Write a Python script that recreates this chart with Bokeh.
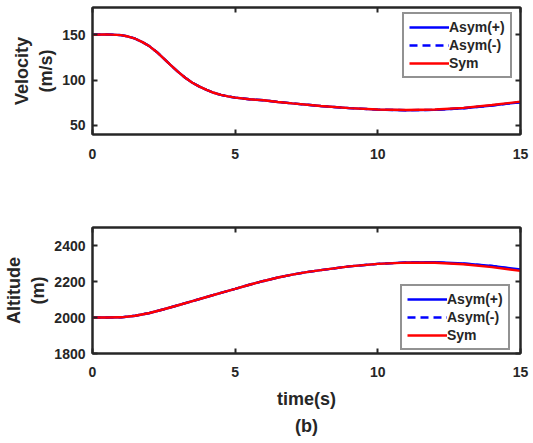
from bokeh.plotting import figure
from bokeh.layouts import column
from bokeh.models import Range1d, FixedTicker, LinearAxis, Legend, LegendItem, Title
from bokeh.embed import file_html
from bokeh.resources import INLINE

# ---- data ----
t_vel = [0, 0.5, 1, 1.25, 1.5, 1.75, 2, 2.25, 2.5, 2.75, 3, 3.25, 3.5, 3.75, 4, 4.25, 4.5,
         4.75, 5, 5.5, 6, 6.5, 7, 8, 9, 10, 11, 12, 13, 14, 15]
vel_sym = [150, 150.4, 149.6, 148.0, 145.6, 141.8, 137.2, 131.0, 123.7, 116.2, 109.1, 102.6,
           97.1, 92.8, 89.1, 86.0, 83.6, 82.0, 80.7, 78.8, 77.7, 75.9, 74.3, 71.4, 69.1, 67.5,
           67.0, 67.5, 69.3, 72.5, 76.2]
vel_asym_p = [150, 150.4, 149.6, 148.0, 145.6, 141.8, 137.2, 131.0, 123.7, 116.2, 109.1, 102.6,
              97.1, 92.8, 89.1, 86.0, 83.6, 82.0, 80.7, 78.8, 77.7, 75.9, 74.3, 71.4, 69.1, 67.4,
              66.8, 67.2, 68.9, 72.0, 75.6]
vel_asym_m = [150, 150.4, 149.6, 148.0, 145.6, 141.8, 137.2, 131.0, 123.7, 116.2, 109.1, 102.6,
              97.1, 92.8, 89.1, 86.0, 83.6, 82.0, 80.7, 78.8, 77.7, 75.9, 74.3, 71.4, 69.1, 67.4,
              66.8, 67.2, 68.9, 72.0, 75.6]

t_alt = [0, 0.5, 1, 1.5, 2, 2.5, 3, 3.5, 4, 4.5, 5, 5.5, 6, 6.5, 7, 7.5, 8, 9, 10, 11, 12,
         13, 14, 15]
alt_sym = [2000, 2000, 2001, 2010, 2025, 2046, 2068, 2091, 2114, 2137, 2159, 2182, 2203, 2222,
           2238, 2252, 2263, 2284, 2298, 2305, 2304, 2296, 2280, 2259]
alt_asym_p = [2000, 2000, 2001, 2010, 2025, 2046, 2068, 2091, 2114, 2137, 2159, 2182, 2203, 2222,
              2238, 2252, 2263, 2284, 2298, 2306, 2307, 2300, 2287, 2267]
alt_asym_m = [2000, 2000, 2001, 2010, 2025, 2046, 2068, 2091, 2114, 2137, 2159, 2182, 2203, 2222,
              2238, 2252, 2263, 2284, 2298, 2306, 2306, 2299, 2286, 2265]

x_ticks = [0, 5, 10, 15]
vel_ticks = [50, 100, 150]
alt_ticks = [1800, 2000, 2200, 2400]

FONT = "Liberation Sans"
DARK = "#262626"
BLUE = "#0000FF"
RED = "#FF0000"


def style_axis(ax):
    ax.major_label_text_font = FONT
    ax.major_label_text_font_style = "bold"
    ax.major_label_text_font_size = "14px"
    ax.major_label_text_color = DARK
    ax.axis_line_color = DARK
    ax.axis_line_width = 2
    ax.major_tick_line_color = DARK
    ax.major_tick_line_width = 2
    ax.major_tick_in = 5
    ax.major_tick_out = 0
    ax.minor_tick_line_color = None
    ax.axis_label_text_font = FONT
    ax.axis_label_text_font_style = "bold"
    ax.axis_label_text_font_size = "18px"
    ax.axis_label_text_color = DARK


def make_fig(height, yr, yticks, top_border, bottom_border):
    p = figure(width=533, height=height, output_backend="svg", toolbar_location=None,
               x_range=Range1d(0, 15), y_range=yr,
               min_border_left=92, min_border_right=13,
               min_border_top=top_border, min_border_bottom=bottom_border)
    xa = p.xaxis[0]
    ya = p.yaxis[0]
    style_axis(xa)
    style_axis(ya)
    xa.ticker = FixedTicker(ticks=x_ticks)
    ya.ticker = FixedTicker(ticks=yticks)
    xa.major_label_standoff = 14
    ya.major_label_standoff = 7
    ya.axis_label_standoff = 3
    # mirrored ticks on top and right (no labels)
    top = LinearAxis(ticker=FixedTicker(ticks=x_ticks),
                     major_label_overrides={v: "" for v in x_ticks})
    right = LinearAxis(ticker=FixedTicker(ticks=yticks),
                       major_label_overrides={v: "" for v in yticks})
    for ax in (top, right):
        style_axis(ax)
        ax.major_label_standoff = 0
    p.add_layout(top, "above")
    p.add_layout(right, "right")
    p.xgrid.grid_line_color = None
    p.ygrid.grid_line_color = None
    p.outline_line_color = DARK
    p.outline_line_width = 2
    p.background_fill_color = "white"
    p.border_fill_color = "white"
    return p, xa, ya


def add_lines(p, xs, yp, ym, ys, loc):
    r1 = p.line(xs, yp, line_color=BLUE, line_width=2.4)
    r2 = p.line(xs, ym, line_color=BLUE, line_width=2.4, line_dash="8 5")
    r3 = p.line(xs, ys, line_color=RED, line_width=2.4)
    leg = Legend(items=[LegendItem(label="Asym(+)", renderers=[r1]),
                        LegendItem(label="Asym(-)", renderers=[r2]),
                        LegendItem(label="Sym", renderers=[r3])],
                 location=loc, label_text_font=FONT, label_text_font_style="bold",
                 label_text_font_size="14px", label_text_color=DARK,
                 border_line_color=DARK, border_line_width=2,
                 glyph_width=40, glyph_height=16, label_standoff=0,
                 spacing=2, padding=5, margin=0, label_height=16)
    p.add_layout(leg, "center")


p1, xa1, ya1 = make_fig(200, Range1d(40, 180), vel_ticks, 7, 66)
ya1.axis_label = "Velocity\n(m/s)"
add_lines(p1, t_vel, vel_asym_p, vel_asym_m, vel_sym, (310, 56))

p2, xa2, ya2 = make_fig(243, Range1d(1800, 2500), alt_ticks, 27, 90)
ya2.axis_label = "Altitude\n(m)"
xa2.axis_label = "time(s)"
xa2.axis_label_standoff = 9
xa2.major_label_standoff = 13
p2.add_layout(Title(text="(b)", align="center", text_font=FONT, text_font_style="bold",
                    text_font_size="18px", text_color=DARK, standoff=4), "below")
add_lines(p2, t_alt, alt_asym_p, alt_asym_m, alt_sym, (308, 3))

layout = column(p1, p2, spacing=0)
open("out.html", "w").write(file_html(layout, INLINE))
